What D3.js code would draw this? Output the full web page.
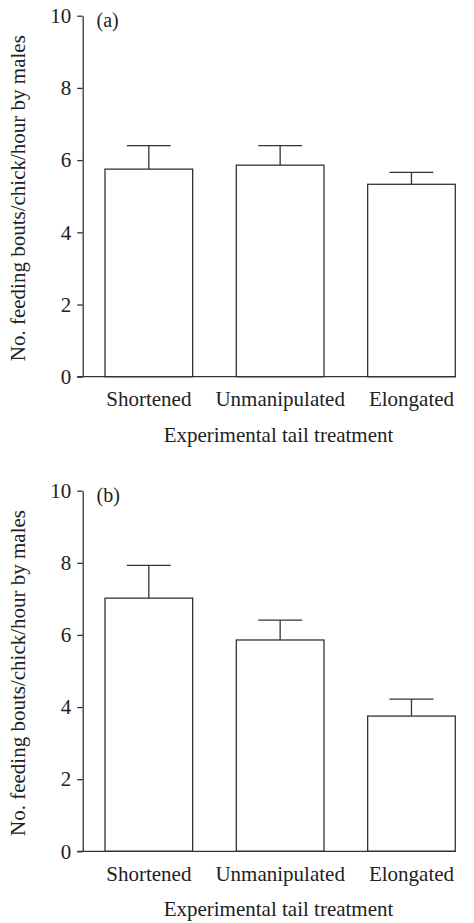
<!DOCTYPE html>
<html>
<head>
<meta charset="utf-8">
<script src="https://cdn.jsdelivr.net/npm/d3@7"></script>
<style>
  body { margin: 0; background: #fff; }
  text { font-family: "Liberation Serif", "Times New Roman", serif; fill: #222; }
</style>
</head>
<body>
<script>
// treatment groups and means (+ SE)
var categories = ["Shortened", "Unmanipulated", "Elongated"];
var meansA = [5.75, 5.86, 5.33];
var seA = [0.65, 0.54, 0.33];
var meansB = [7.02, 5.86, 3.75];
var seB = [0.91, 0.55, 0.47];
var yTicks = [0, 2, 4, 6, 8, 10];

var width = 474, height = 923;
var axisX = 82.7;
var ink = "#333";

var svg = d3.select("body").append("svg")
    .attr("width", width)
    .attr("height", height);

// bands line up with the bar edges, x axis ends at the last bar
var x = d3.scaleBand()
    .domain(categories)
    .range([105, 455.3])
    .paddingInner(0.3325)
    .paddingOuter(0);

function drawPanel(top, bottom, means, se, tag) {
  var y = d3.scaleLinear().domain([0, 10]).range([bottom, top]);
  var g = svg.append("g");

  var data = categories.map(function(c, i) {
    return {cat: c, mean: means[i], se: se[i]};
  });

  // error bars first so the bar top sits over the stem
  g.selectAll(".err")
      .data(data)
    .enter().append("line")
      .attr("x1", function(d) { return x(d.cat) + x.bandwidth() / 2; })
      .attr("x2", function(d) { return x(d.cat) + x.bandwidth() / 2; })
      .attr("y1", function(d) { return y(d.mean); })
      .attr("y2", function(d) { return y(d.mean + d.se); })
      .attr("stroke", ink).attr("stroke-width", 1.3);

  g.selectAll(".cap")
      .data(data)
    .enter().append("line")
      .attr("x1", function(d) { return x(d.cat) + x.bandwidth() / 4; })
      .attr("x2", function(d) { return x(d.cat) + x.bandwidth() * 3 / 4; })
      .attr("y1", function(d) { return y(d.mean + d.se); })
      .attr("y2", function(d) { return y(d.mean + d.se); })
      .attr("stroke", ink).attr("stroke-width", 1.3);

  g.selectAll(".bar")
      .data(data)
    .enter().append("rect")
      .attr("x", function(d) { return x(d.cat); })
      .attr("y", function(d) { return y(d.mean); })
      .attr("width", x.bandwidth())
      .attr("height", function(d) { return bottom - y(d.mean); })
      .attr("fill", "#fff")
      .attr("stroke", ink).attr("stroke-width", 1.3);

  // y axis
  var yAxis = g.append("g")
      .attr("transform", "translate(" + axisX + ",0)")
      .call(d3.axisLeft(y).tickValues(yTicks).tickSize(5.5).tickSizeOuter(0).tickPadding(6));
  yAxis.selectAll("path, line").attr("stroke", ink).attr("stroke-width", 1.3);
  yAxis.selectAll("text")
      .style("font-family", "'Liberation Serif', serif")
      .attr("font-size", 21)
      .attr("fill", "#222");

  // x axis line from the zero tick to the last bar edge
  g.append("line")
      .attr("x1", axisX - 5.5).attr("x2", 455.7)
      .attr("y1", bottom).attr("y2", bottom)
      .attr("stroke", ink).attr("stroke-width", 1.3);

  var xAxis = g.append("g")
      .attr("transform", "translate(0," + bottom + ")")
      .call(d3.axisBottom(x).tickSize(0).tickPadding(14.6));
  xAxis.select(".domain").remove();
  xAxis.selectAll("text")
      .style("font-family", "'Liberation Serif', serif")
      .attr("font-size", 21)
      .attr("fill", "#222");

  g.append("text")
      .attr("x", 278.5)
      .attr("y", bottom + 65)
      .attr("text-anchor", "middle")
      .attr("font-size", 21)
      .text("Experimental tail treatment");

  g.append("text")
      .attr("transform", "translate(25," + ((top + bottom) / 2 + 2) + ") rotate(-90)")
      .attr("text-anchor", "middle")
      .attr("font-size", 21)
      .text("No. feeding bouts/chick/hour by males");

  g.append("text")
      .attr("x", 96.5)
      .attr("y", top + 11.5)
      .attr("font-size", 20)
      .text(tag);
}

drawPanel(15.7, 376.7, meansA, seA, "(a)");
drawPanel(490.7, 851.3, meansB, seB, "(b)");
</script>
</body>
</html>
